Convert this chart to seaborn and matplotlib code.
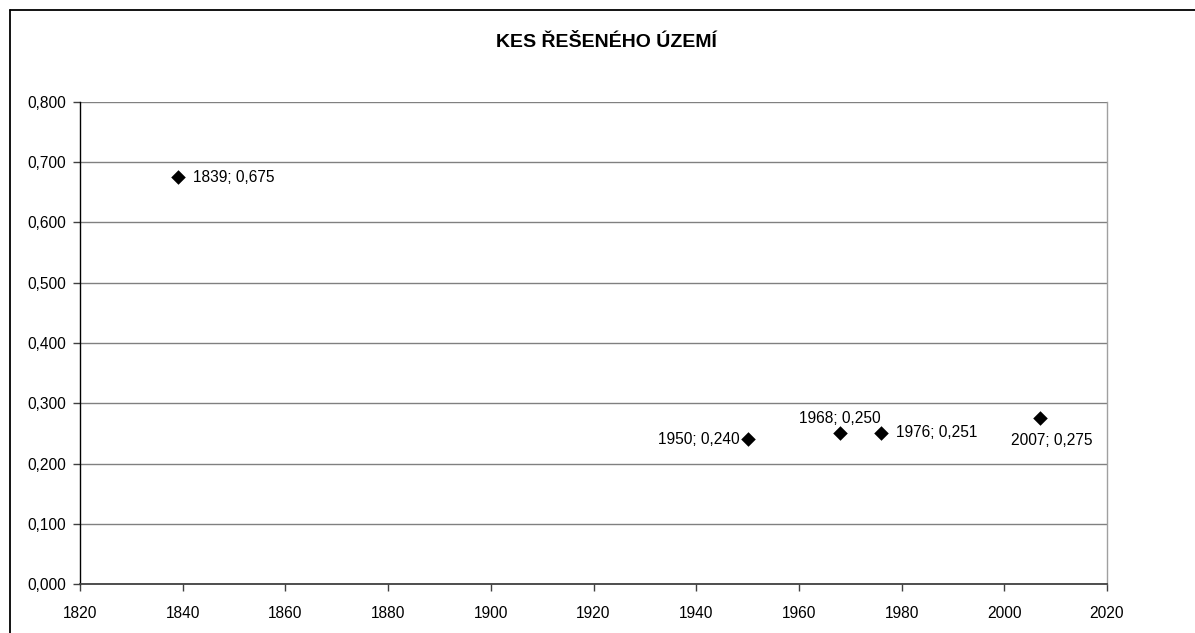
import matplotlib
matplotlib.use("Agg")
import matplotlib.pyplot as plt
import seaborn as sns
import pandas as pd
from matplotlib.lines import Line2D

years = [1839, 1950, 1968, 1976, 2007]
kes = [0.675, 0.240, 0.250, 0.251, 0.275]
title = "KES ŘEŠENÉHO ÚZEMÍ"
x_ticks = list(range(1820, 2021, 20))
y_ticks = [0.0, 0.1, 0.2, 0.3, 0.4, 0.5, 0.6, 0.7, 0.8]

df = pd.DataFrame({"rok": years, "kes": kes})

sns.set_theme(style="white")
plt.rcParams["font.family"] = ["Liberation Sans", "DejaVu Sans"]
plt.rcParams["text.color"] = "black"

fig = plt.figure(figsize=(11.95, 6.33), dpi=100)
ax = fig.add_axes([80 / 1195, 49 / 633, 1027 / 1195, 482 / 633])

sns.scatterplot(data=df, x="rok", y="kes", marker="D", s=55, color="black",
                edgecolor="black", linewidth=0, ax=ax, zorder=3)

FS = 11.2
ax.set_xlim(1820, 2020)
ax.set_ylim(0, 0.8)
ax.set_xticks(x_ticks)
ax.set_yticks(y_ticks)
ax.set_xticklabels([str(t) for t in x_ticks], fontsize=FS)
ax.set_yticklabels([f"{v:.3f}".replace(".", ",") for v in y_ticks], fontsize=FS)
ax.set_xlabel("")
ax.set_ylabel("")
ax.grid(axis="y", color="#808080", linewidth=1)
ax.set_axisbelow(True)
ax.spines["top"].set_visible(False)
ax.spines["right"].set_color("#a0a0a0")
ax.spines["right"].set_linewidth(1)
ax.spines["left"].set_color("black")
ax.spines["bottom"].set_color("#404040")
ax.spines["left"].set_linewidth(1)
ax.spines["bottom"].set_linewidth(1.3)
ax.tick_params(axis="both", direction="out", length=5, width=1, color="#404040",
               labelcolor="black", bottom=True, left=True)
ax.tick_params(axis="y", pad=5)
ax.tick_params(axis="x", pad=11)

# label placement (offsets in pixels) per point
offsets = [(15, 0, "left", "center"),
           (-8, 0, "right", "center"),
           (0, 10, "center", "baseline"),
           (15, 0, "left", "center"),
           (12, -22, "center", "center")]
for x, y, (dx, dy, ha, va) in zip(years, kes, offsets):
    lab = f"{x}; {y:.3f}".replace(".", ",")
    ax.annotate(lab, (x, y), xytext=(dx, dy), textcoords="offset pixels",
                ha=ha, va=va, fontsize=FS, color="black")

fig.text(606 / 1195, 1 - 47 / 633, title, ha="center", va="baseline",
         fontsize=14, fontweight="bold", color="black")

# outer chart frame
fig.add_artist(Line2D([10 / 1195, 10 / 1195], [0, 1 - 10 / 633],
                      transform=fig.transFigure, color="black", linewidth=1.3))
fig.add_artist(Line2D([10 / 1195, 1], [1 - 10 / 633, 1 - 10 / 633],
                      transform=fig.transFigure, color="black", linewidth=1.3))

fig.savefig("out.png", dpi=100)
